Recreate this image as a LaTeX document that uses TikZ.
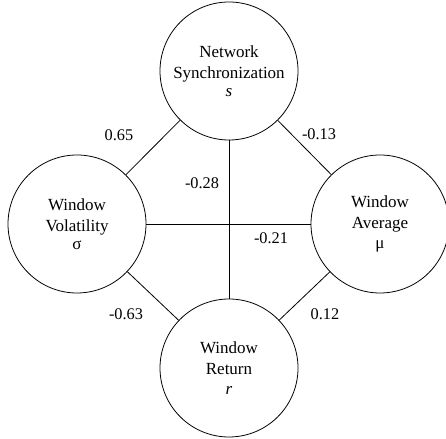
\documentclass[tikz,border=0pt]{standalone}
\usepackage{fontspec}
\setmainfont{Liberation Serif}
\begin{document}
\begin{tikzpicture}[x=1pt,y=1pt,
  var/.style={draw, circle, line width=0.8pt, minimum size=138pt, inner sep=0pt,
    align=center, font=\fontsize{17}{21}\selectfont},
  link/.style={line width=0.8pt},
  coef/.style={font=\fontsize{16.3}{19}\selectfont, inner sep=0pt}]
\useasboundingbox (0,0) rectangle (446,438);
% variables
\node[var] (sync) at (229,367) {Network\\Synchronization\\[-3pt]\textit{s}};
\node[var] (vol)  at (77,214)  {Window\\Volatility\\[-3pt]σ};
\node[var] (avg)  at (380,214) {Window\\Average\\[-1pt]μ};
\node[var] (ret)  at (229,70)  {Window\\Return\\[-1pt]\textit{r}};
% correlations
\draw[link] (sync) -- (vol);
\draw[link] (sync) -- (avg);
\draw[link] (vol) -- (ret);
\draw[link] (avg) -- (ret);
\draw[link] (sync) -- (ret);
\draw[link] (vol) -- (avg);
% coefficient labels
\node[coef] (c1) at (119,303) {0.65};
\node[coef] (c2) at (319,304) {-0.13};
\node[coef] (c3) at (202,255) {-0.28};
\node[coef] (c4) at (271,200) {-0.21};
\node[coef] (c5) at (126,124) {-0.63};
\node[coef] (c6) at (325,124) {0.12};
\end{tikzpicture}
\end{document}
